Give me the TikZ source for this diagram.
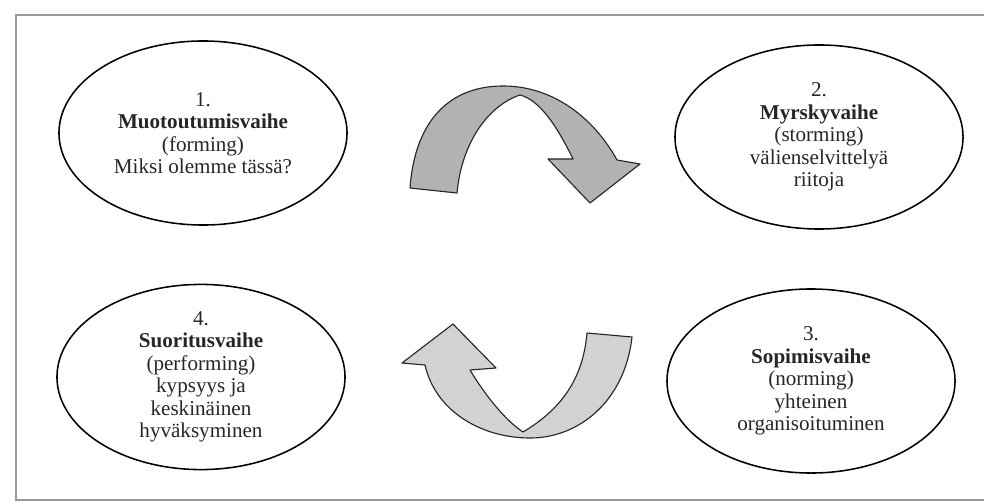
\documentclass[tikz,border=0pt]{standalone}
\usepackage{fontspec}
\setmainfont{Liberation Serif}
\usetikzlibrary{shapes.geometric}

\begin{document}
\begin{tikzpicture}[x=0.025cm,y=-0.025cm,
  stage/.style={ellipse,draw=black,line width=1.1pt,minimum width=7.2cm,minimum height=4.6cm,
    inner sep=0pt,align=center,text=black!85,font=\fontsize{15}{16}\selectfont},
  turn/.style={draw=black!85,line width=0.8pt,line join=round}]
\useasboundingbox (0,0) rectangle (984,504);
\draw[black!40,line width=1.8pt] (990,15) -- (16,15) -- (16,500) -- (990,500);

\node[stage] (forming) at (203,133) {1.\\\textbf{Muotoutumisvaihe}\\(forming)\\Miksi olemme tässä?};
\node[stage] (storming) at (819,137) {2.\\\textbf{Myrskyvaihe}\\(storming)\\välienselvittelyä\\riitoja};
\node[stage] (norming) at (811,381) {3.\\\textbf{Sopimisvaihe}\\(norming)\\yhteinen\\organisoituminen};
\node[stage] (performing) at (201,377) {4.\\\textbf{Suoritusvaihe}\\(performing)\\kypsyys ja\\keskinäinen\\hyväksyminen};

\filldraw[turn,fill=gray!60] (410,188) .. controls (415,120) and (450,86) .. (503,86)
  .. controls (555,86) and (595,120) .. (617,160) -- (640,164) -- (590,203) -- (548,159) -- (573,159)
  .. controls (558,128) and (540,100) .. (520,95)
  .. controls (490,105) and (462,140) .. (457,193) -- cycle;

\filldraw[turn,fill=gray!35] (587,333) -- (632,337) .. controls (625,400) and (580,438) .. (530,438)
  .. controls (480,438) and (435,410) .. (425,365) -- (402,363) -- (453,324) -- (496,368) -- (470,370)
  .. controls (485,395) and (505,420) .. (523,432)
  .. controls (560,410) and (583,380) .. (587,333) -- cycle;

\end{tikzpicture}
\end{document}
